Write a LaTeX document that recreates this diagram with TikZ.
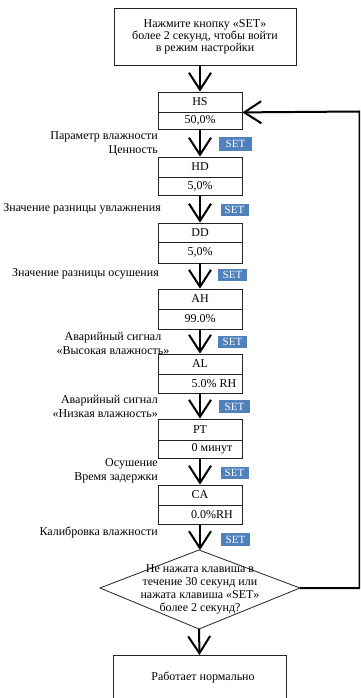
\documentclass[tikz,border=0pt]{standalone}
\usepackage{fontspec}
\setmainfont{Liberation Serif}
\usetikzlibrary{arrows.meta}
\definecolor{setblue}{HTML}{4F81BD}
\definecolor{edge}{HTML}{222222}
\begin{document}
\begin{tikzpicture}[x=1pt,y=-1pt,
  cell/.style={draw=edge, line width=0.8pt, minimum width=84pt, inner sep=0pt, font=\fontsize{12}{12}\selectfont},
  bigbox/.style={draw=edge, line width=0.8pt, inner sep=0pt, align=center, font=\fontsize{12}{12}\selectfont},
  flow/.style={line width=2pt, -{Straight Barb[length=17pt,width=22pt,line width=2pt]}},
  setbox/.style={fill=setblue, text=white, font=\fontsize{11}{11}\selectfont, inner sep=0pt},
  lbl/.style={font=\fontsize{12}{14}\selectfont, inner sep=0pt, align=right, anchor=east},
  lblc/.style={font=\fontsize{12}{14}\selectfont, inner sep=0pt, align=center},
]
\useasboundingbox (0,0) rectangle (360,698);
\clip (0,0) rectangle (360,698);

% top box
\node[bigbox, minimum width=182pt, minimum height=57pt] (top) at (205,36.5)
  {Нажмите кнопку «SET»\\более 2 секунд, чтобы войти\\в режим настройки};

% parameter cells
\node[cell, minimum height=20pt] (hs)  at (200,102)   {HS};
\node[cell, minimum height=17pt] (hsv) at (200,120.5) {50,0\%};
\node[cell, minimum height=20pt] (hd)  at (200,167)   {HD};
\node[cell, minimum height=18pt] (hdv) at (200,186)   {5,0\%};
\node[cell, minimum height=19pt] (dd)  at (200,232.5) {DD};
\node[cell, minimum height=21pt] (ddv) at (200,252.5) {5,0\%};
\node[cell, minimum height=20pt] (ah)  at (200,299)   {AH};
\node[cell, minimum height=20pt] (ahv) at (200,319)   {99.0\%};
\node[cell, minimum height=20pt] (al)  at (200,364)   {AL};
\node[cell, minimum height=19pt] (alv) at (200,383.5) {\hspace*{28pt}5.0\% RH};
\node[cell, minimum height=21pt] (pt)  at (200,429.5) {PT};
\node[cell, minimum height=18pt] (ptv) at (200,449)   {\hspace*{24pt}0 минут};
\node[cell, minimum height=20pt] (ca)  at (200,495)   {CA};
\node[cell, minimum height=19pt] (cav) at (200,514.5) {\hspace*{24pt}0.0\%RH};

% labels
\node[lbl] (l1) at (158,144) {Параметр влажности\\Ценность};
\node[lbl] (l2) at (161,209) {Значение разницы увлажнения};
\node[lbl] (l3) at (159,274) {Значение разницы осушения};
\node[lblc] (l4) at (113,343) {Аварийный сигнал\\«Высокая влажность»};
\node[lbl] (l5) at (158,406) {Аварийный сигнал\\«Низкая влажность»};
\node[lbl] (l6) at (158,471) {Осушение\\Время задержки};
\node[lbl] (l7) at (158,532) {Калибровка влажности};

% SET buttons
\node[setbox, minimum width=33pt, minimum height=14pt] (s1) at (235.5,144) {SET};
\node[setbox, minimum width=28pt, minimum height=12pt] (s2) at (234.5,209.5) {SET};
\node[setbox, minimum width=29pt, minimum height=12pt] (s3) at (232.5,275) {SET};
\node[setbox, minimum width=29pt, minimum height=12pt] (s4) at (232.5,342) {SET};
\node[setbox, minimum width=31pt, minimum height=13pt] (s5) at (234.5,406.5) {SET};
\node[setbox, minimum width=28pt, minimum height=12pt] (s6) at (234.5,472.5) {SET};
\node[setbox, minimum width=29pt, minimum height=13pt] (s7) at (235.5,539.5) {SET};

% diamond
\coordinate (dt) at (199,550);
\coordinate (dl) at (100,588);
\coordinate (dr) at (300,588);
\coordinate (db) at (199,629);
\draw[draw=edge, line width=0.8pt] (dt) -- (dr) -- (db) -- (dl) -- cycle;
\node[lblc, font=\fontsize{12}{13}\selectfont] (dtext) at (200,589.5)
  {Не нажата клавиша в\\течение 30 секунд или\\нажата клавиша «SET»\\более 2 секунд?};

% bottom box
\draw[draw=edge, line width=0.8pt] (113,720) -- (113,655) -- (286,655) -- (286,720);
\coordinate (bot) at (199.5,655);
\node[lblc] (btext) at (203,677) {Работает нормально};

% arrows
\draw[flow] (hs.north |- top.south) -- (hs.north);
\draw[flow] (hsv.south) -- (hd.north);
\draw[flow] (hdv.south) -- (dd.north);
\draw[flow] (ddv.south) -- (ah.north);
\draw[flow] (ahv.south) -- (al.north);
\draw[flow] (alv.south) -- (pt.north);
\draw[flow] (ptv.south) -- (ca.north);
\draw[flow] (cav.south) -- (cav.south |- dt);
\draw[flow] (db) -- (bot);
\coordinate (fb) at (359.5,111.5);
\draw[flow] (dr) -| (fb) -- (hs.south east);
\end{tikzpicture}
\end{document}
